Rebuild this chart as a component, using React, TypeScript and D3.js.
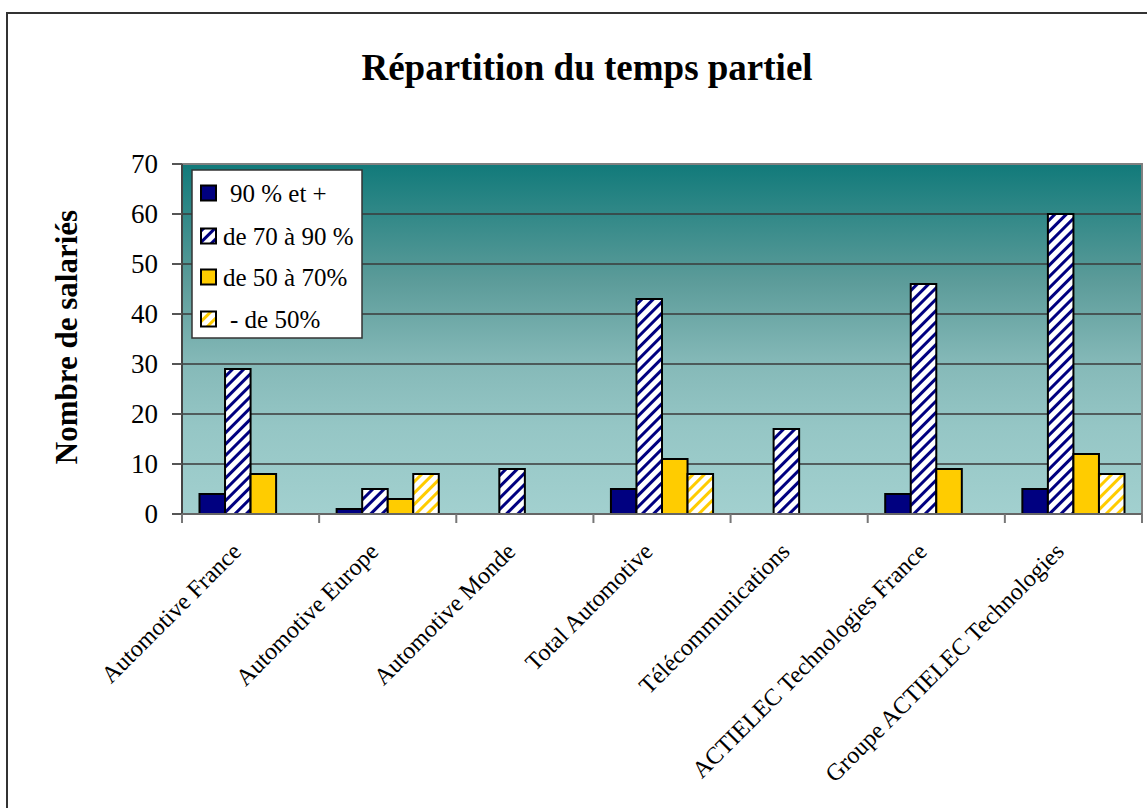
import React from 'react';
import * as d3 from 'd3';

const categories = [
  'Automotive France',
  'Automotive Europe',
  'Automotive Monde',
  'Total Automotive',
  'Télécommunications',
  'ACTIELEC Technologies France',
  'Groupe ACTIELEC Technologies',
];

const seriesNames = ['90 % et +', 'de 70 à 90 %', 'de 50 à 70%', '- de 50%'];

const plus90 = [4, 1, 0, 5, 0, 4, 5];
const from70to90 = [29, 5, 9, 43, 17, 46, 60];
const from50to70 = [8, 3, 0, 11, 0, 9, 12];
const under50 = [0, 8, 0, 8, 0, 0, 8];

const yTicks = [0, 10, 20, 30, 40, 50, 60, 70];

const seriesValues = [plus90, from70to90, from50to70, under50];
const seriesFill = ['#000080', 'url(#hatchNavy)', '#FFCC00', 'url(#hatchYellow)'];

const W = 1147;
const H = 808;
const left = 182;
const right = 1142;
const top = 164;
const bottom = 514;
const serif = "'Liberation Serif', 'Times New Roman', serif";

const App = () => {
  const x0 = d3.scaleBand<string>().domain(categories).range([left, right]);
  const gap = 17.5;
  const x1 = d3
    .scaleBand<number>()
    .domain(d3.range(seriesNames.length))
    .range([gap, x0.bandwidth() - gap]);
  const y = d3.scaleLinear().domain([0, 70]).range([bottom, top]);

  const bars = categories.flatMap((c, ci) =>
    seriesValues.map((vals, si) => ({ c, si, v: vals[ci] }))
  ).filter(d => d.v > 0);

  const legendRows = [193, 236, 277, 319];
  const legendTextX = [230, 223, 223, 230];

  return (
    <div>
      <style>{`body { margin: 0; } svg text { font-family: ${serif}; }`}</style>
      <svg width={W} height={H} style={{ display: 'block' }}>
        <defs>
          <linearGradient id="plotBg" x1="0" y1="0" x2="0" y2="1">
            <stop offset="0" stopColor="#117a7a" />
            <stop offset="0.33" stopColor="#5b9b99" />
            <stop offset="0.57" stopColor="#85b9b8" />
            <stop offset="0.75" stopColor="#95c6c5" />
            <stop offset="1" stopColor="#a2d0cf" />
          </linearGradient>
          <pattern id="hatchNavy" patternUnits="userSpaceOnUse" width="8" height="8"
            patternTransform="rotate(45)">
            <rect width="8" height="8" fill="#ffffff" />
            <rect width="3" height="8" fill="#000080" />
          </pattern>
          <pattern id="hatchYellow" patternUnits="userSpaceOnUse" width="8" height="8"
            patternTransform="rotate(45)">
            <rect width="8" height="8" fill="#ffffff" />
            <rect width="3" height="8" fill="#FFCC00" />
          </pattern>
        </defs>

        {/* outer frame */}
        <rect x={7} y={13} width={W} height={H} fill="white" stroke="#333" strokeWidth={2} />

        <text x={587} y={80} textAnchor="middle" fontSize={37} fontWeight="bold">
          Répartition du temps partiel
        </text>

        {/* plot area */}
        <rect x={left} y={top} width={right - left} height={bottom - top} fill="url(#plotBg)" />
        {yTicks.filter(t => t > 0 && t < 70).map(t => (
          <line key={t} x1={left} x2={right} y1={y(t)} y2={y(t)} stroke="#3a3a3a" strokeWidth={1.5} />
        ))}
        <path d={`M${left},${top}H${right}V${bottom}`} fill="none" stroke="#808080" strokeWidth={2} />

        {/* bars */}
        {bars.map((d, i) => (
          <rect
            key={i}
            x={(x0(d.c) as number) + (x1(d.si) as number)}
            y={y(d.v)}
            width={x1.bandwidth()}
            height={bottom - y(d.v)}
            fill={seriesFill[d.si]}
            stroke="#000"
            strokeWidth={2}
          />
        ))}

        {/* axes */}
        <line x1={left} x2={left} y1={top} y2={bottom} stroke="#444" strokeWidth={2} />
        <line x1={left - 10} x2={right} y1={bottom} y2={bottom} stroke="#666" strokeWidth={2} />
        {yTicks.map(t => (
          <g key={t}>
            <line x1={left - 10} x2={left} y1={y(t)} y2={y(t)} stroke="#555" strokeWidth={2} />
            <text x={158} y={y(t)} dy="0.35em" textAnchor="end" fontSize={27}>{t}</text>
          </g>
        ))}
        {categories.concat(['']).map((c, i) => {
          const xx = left + i * x0.bandwidth();
          return <line key={i} x1={xx} x2={xx} y1={bottom} y2={bottom + 9} stroke="#777" strokeWidth={2} />;
        })}
        {categories.map(c => {
          const cx = (x0(c) as number) + x0.bandwidth() / 2;
          return (
            <text key={c} transform={`translate(${cx - 8},${553}) rotate(-45)`} textAnchor="end" fontSize={24}>
              {c}
            </text>
          );
        })}

        <text transform="translate(77,337) rotate(-90)" textAnchor="middle" fontSize={31} fontWeight="bold">
          Nombre de salariés
        </text>

        {/* legend */}
        <rect x={192} y={170} width={170} height={168} fill="white" stroke="#333" strokeWidth={1.5} />
        {seriesNames.map((s, i) => (
          <g key={s}>
            <rect x={201} y={legendRows[i] - 7.5} width={15} height={15} fill={seriesFill[i]} stroke="#000" strokeWidth={2} />
            <text x={legendTextX[i]} y={legendRows[i]} dy="0.35em" fontSize={25}>{s}</text>
          </g>
        ))}
      </svg>
    </div>
  );
};

export default App;
